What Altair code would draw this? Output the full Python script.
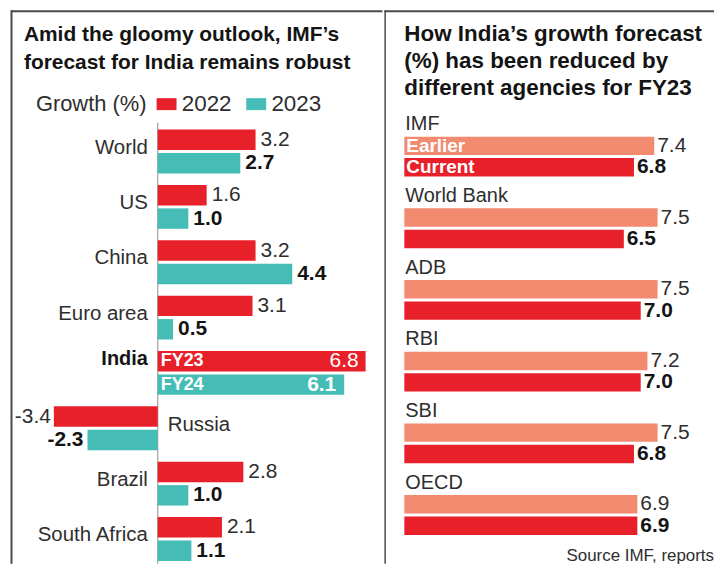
import altair as alt
import pandas as pd

# ---------------- data ----------------
countries = ["World", "US", "China", "Euro area", "India", "Russia", "Brazil", "South Africa"]
growth_2022 = [3.2, 1.6, 3.2, 3.1, 6.8, -3.4, 2.8, 2.1]
growth_2023 = [2.7, 1.0, 4.4, 0.5, 6.1, -2.3, 1.0, 1.1]
years = ["2022", "2023"]
india_tags = ["FY23", "FY24"]

agencies = ["IMF", "World Bank", "ADB", "RBI", "SBI", "OECD"]
earlier = [7.4, 7.5, 7.5, 7.2, 7.5, 6.9]
current = [6.8, 6.5, 7.0, 7.0, 6.8, 6.9]
forecast_series = ["Earlier", "Current"]

left_title = ["Amid the gloomy outlook, IMF\u2019s", "forecast for India remains robust"]
right_title = ["How India\u2019s growth forecast", "(%) has been reduced by", "different agencies for FY23"]
legend_title = "Growth (%)"
source_note = "Source IMF, reports"

# ---------------- styles ----------------
RED = "#E8202A"
TEAL = "#45BDB6"
SALMON = "#F28A70"
TXT = "#2e2e2e"
DARK = "#141414"
FRAME = "#4a4a4a"
FONT = "Liberation Sans"

W_L, W_R, H = 376, 331, 556
BH_L, OFF_L = 20.5, 11.75   # left bar thickness / half step between paired bars
BH_R, OFF_R = 18.5, 10.75   # right bar thickness / half step

left_df = pd.DataFrame({
    "country": countries * 2,
    "year": [years[0]] * len(countries) + [years[1]] * len(countries),
    "value": growth_2022 + growth_2023,
})
left_df["label"] = left_df["value"].map(lambda v: f"{v:.1f}")
left_df["tag"] = left_df["year"].map(dict(zip(years, india_tags)))
left_df["base"] = 0.0
cat_df = pd.DataFrame({"country": countries, "base": 0.0})

right_df = pd.DataFrame({
    "agency": agencies * 2,
    "series": [forecast_series[0]] * len(agencies) + [forecast_series[1]] * len(agencies),
    "value": earlier + current,
})
right_df["label"] = right_df["value"].map(lambda v: f"{v:.1f}")
right_df["base"] = 0.0
ag_df = pd.DataFrame({"agency": agencies, "base": 0.0})
one = pd.DataFrame({"k": [0.0]})

# ---------------- left panel ----------------
xs_L = alt.Scale(domain=[-4.9, 7.35], nice=False)
X_L = alt.X("value:Q", scale=xs_L, axis=None)
X0_L = alt.X("base:Q", scale=xs_L, axis=None)
Y_L = alt.Y("country:N", sort=countries, axis=None,
            scale=alt.Scale(range=[120, 553], paddingInner=0.21, paddingOuter=0))
C_L = alt.Color("year:N", scale=alt.Scale(domain=years, range=[RED, TEAL]),
                legend=alt.Legend(
                    orient="none", legendX=28, legendY=83, direction="horizontal",
                    title=legend_title, titleOrient="left", titleFontSize=22,
                    titleFontWeight="normal", titleColor=TXT, titleFont=FONT,
                    titlePadding=8, labelFontSize=22.5, labelColor=TXT, labelFont=FONT,
                    symbolType="M-1,-0.6H1V0.6H-1Z", symbolSize=400,
                    symbolStrokeWidth=0, symbolOpacity=1, labelOffset=4,
                    columnPadding=13, padding=0))

def yr(y):
    return f"datum.year == '{y}'"

bars_22 = alt.Chart(left_df).transform_filter(yr("2022")).mark_bar(
    height=BH_L, yOffset=-OFF_L).encode(x=X_L, y=Y_L, color=C_L)
bars_23 = alt.Chart(left_df).transform_filter(yr("2023")).mark_bar(
    height=BH_L, yOffset=OFF_L).encode(x=X_L, y=Y_L, color=C_L)

zero_rule = alt.Chart(one).mark_rule(color="#8c8c8c", strokeWidth=1).encode(
    x=alt.X("k:Q", scale=xs_L, axis=None), y=alt.value(113), y2=alt.value(H))
top_rule_L = alt.Chart(one).mark_rule(color=FRAME, strokeWidth=2).encode(
    x=alt.value(3), x2=alt.value(W_L), y=alt.value(1))
left_edge = alt.Chart(one).mark_rule(color=FRAME, strokeWidth=2).encode(
    x=alt.value(3.5), y=alt.value(0), y2=alt.value(H))
title_L = alt.Chart(one).mark_text(
    align="left", baseline="top", fontSize=21, fontWeight="bold", lineHeight=28.5,
    color=DARK).encode(x=alt.value(16), y=alt.value(13.5), text=alt.value(left_title))

cat_normal = alt.Chart(cat_df).transform_filter(
    "datum.country != 'India' && datum.country != 'Russia'"
).mark_text(align="right", baseline="middle", dx=-10, dy=-4, fontSize=20.5, color=TXT).encode(
    x=X0_L, y=Y_L, text="country:N")
cat_russia = alt.Chart(cat_df).transform_filter("datum.country == 'Russia'").mark_text(
    align="left", baseline="middle", dx=10, dy=-3, fontSize=20.5, color=TXT).encode(
    x=X0_L, y=Y_L, text="country:N")
cat_india = alt.Chart(cat_df).transform_filter("datum.country == 'India'").mark_text(
    align="right", baseline="middle", dx=-10, dy=-OFF_L - 2, fontSize=20,
    fontWeight="bold", color=DARK).encode(x=X0_L, y=Y_L, text="country:N")

def vtext(flt, dy, **kw):
    return alt.Chart(left_df).transform_filter(flt).mark_text(
        baseline="middle", dy=dy, fontSize=21, **kw).encode(x=X_L, y=Y_L, text="label:N")

not_india = "datum.country != 'India'"
val_pos_22 = vtext(f"{yr('2022')} && datum.value > 0 && {not_india}", -OFF_L,
                   align="left", dx=5, color=TXT)
val_pos_23 = vtext(f"{yr('2023')} && datum.value > 0 && {not_india}", OFF_L,
                   align="left", dx=5, color=DARK, fontWeight="bold")
val_neg_22 = vtext(f"{yr('2022')} && datum.value < 0", -OFF_L,
                   align="right", dx=-3, color=TXT)
val_neg_23 = vtext(f"{yr('2023')} && datum.value < 0", OFF_L,
                   align="right", dx=-4, color=DARK, fontWeight="bold")
val_india_22 = vtext(f"{yr('2022')} && datum.country == 'India'", -OFF_L,
                     align="right", dx=-7, color="white")
val_india_23 = vtext(f"{yr('2023')} && datum.country == 'India'", OFF_L,
                     align="right", dx=-8, color="white", fontWeight="bold")

def tag(y, dy):
    return alt.Chart(left_df).transform_filter(
        f"datum.country == 'India' && {yr(y)}").mark_text(
        align="left", baseline="middle", dx=3, dy=dy, fontSize=18, fontWeight="bold",
        color="white").encode(x=X0_L, y=Y_L, text="tag:N")

left_chart = alt.layer(
    top_rule_L, left_edge, zero_rule, title_L, bars_22, bars_23,
    cat_normal, cat_russia, cat_india,
    val_pos_22, val_pos_23, val_neg_22, val_neg_23,
    val_india_22, val_india_23, tag("2022", -OFF_L), tag("2023", OFF_L),
).properties(width=W_L, height=H)

# ---------------- right panel ----------------
xs_R = alt.Scale(domain=[-0.59, 9.17], nice=False)
X_R = alt.X("value:Q", scale=xs_R, axis=None)
X0_R = alt.X("base:Q", scale=xs_R, axis=None)
ys_R = alt.Scale(range=[127, 527], paddingInner=0.444, paddingOuter=0)
Y_R = alt.Y("agency:N", sort=agencies, axis=None, scale=ys_R)
C_R = alt.Color("series:N", scale=alt.Scale(domain=forecast_series, range=[SALMON, RED]),
                legend=None)

def sr(s):
    return f"datum.series == '{s}'"

bars_e = alt.Chart(right_df).transform_filter(sr("Earlier")).mark_bar(
    height=BH_R, yOffset=-OFF_R).encode(x=X_R, y=Y_R, color=C_R)
bars_c = alt.Chart(right_df).transform_filter(sr("Current")).mark_bar(
    height=BH_R, yOffset=OFF_R).encode(x=X_R, y=Y_R, color=C_R)

top_rule_R = alt.Chart(one).mark_rule(color=FRAME, strokeWidth=2).encode(
    x=alt.value(0), x2=alt.value(W_R), y=alt.value(1))
sep_rule = alt.Chart(one).mark_rule(color=FRAME, strokeWidth=1.5).encode(
    x=alt.value(0.75), y=alt.value(0), y2=alt.value(H))
title_R = alt.Chart(one).mark_text(
    align="left", baseline="top", fontSize=22.5, fontWeight="bold", lineHeight=27.5,
    color=DARK).encode(x=alt.value(20), y=alt.value(12.5), text=alt.value(right_title))
source_R = alt.Chart(one).mark_text(
    align="right", baseline="alphabetic", fontSize=17, color=TXT).encode(
    x=alt.value(W_R), y=alt.value(H - 3), text=alt.value(source_note))

ag_labels = alt.Chart(ag_df).mark_text(
    align="left", baseline="middle", dx=1, dy=-(2 * OFF_R + 11), fontSize=20, color=TXT).encode(
    x=X0_R, y=Y_R, text="agency:N")
val_earlier = alt.Chart(right_df).transform_filter(sr("Earlier")).mark_text(
    align="left", baseline="middle", dx=3, dy=-OFF_R, fontSize=21, color=TXT).encode(
    x=X_R, y=Y_R, text="label:N")
val_current = alt.Chart(right_df).transform_filter(sr("Current")).mark_text(
    align="left", baseline="middle", dx=3, dy=OFF_R, fontSize=21, fontWeight="bold",
    color=DARK).encode(x=X_R, y=Y_R, text="label:N")

def sname(s, dy):
    return alt.Chart(right_df).transform_filter(f"datum.agency == 'IMF' && {sr(s)}").mark_text(
        align="left", baseline="middle", dx=2, dy=dy, fontSize=19, fontWeight="bold",
        color="white").encode(x=X0_R, y=Y_R, text="series:N")

right_chart = alt.layer(
    top_rule_R, sep_rule, title_R, source_R, bars_e, bars_c, ag_labels,
    val_earlier, val_current, sname("Earlier", -OFF_R), sname("Current", OFF_R),
).properties(width=W_R, height=H)

chart = alt.hconcat(left_chart, right_chart, spacing=0).resolve_scale(
    color="independent"
).properties(padding=0).configure(font=FONT).configure_view(stroke=None)

chart.save("out.html", embed_options={"renderer": "svg", "actions": False})
